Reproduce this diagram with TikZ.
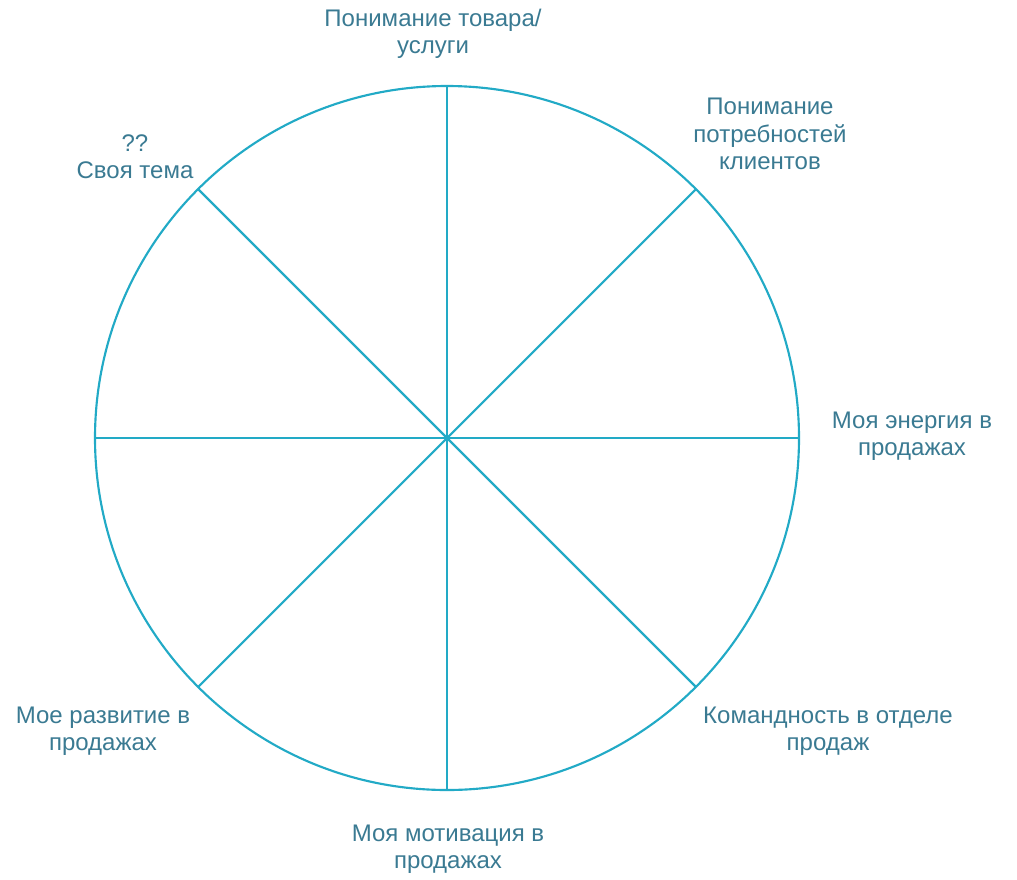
\documentclass[tikz,border=0pt]{standalone}
\usepackage{fontspec}
\setmainfont{Liberation Sans}
\usetikzlibrary{calc}
\definecolor{wheel}{RGB}{34,170,198}
\definecolor{lbl}{RGB}{58,122,146}
\begin{document}
\begin{tikzpicture}[x=0.75pt,y=-0.75pt,
  spoke/.style={draw=wheel,line width=1.6pt},
  lab/.style={text=lbl,align=center,font=\fontsize{18}{20.5}\selectfont,inner sep=0pt}]
\useasboundingbox (0,0) rectangle (1017,879);
\coordinate (c) at (447,438);
\draw[spoke] (c) circle[radius=352*0.75pt];
\foreach \a/\n in {0/e,45/ne,90/n,135/nw,180/w,225/sw,270/s,315/se}{
  \coordinate (\n) at ($(c)+(\a:352*0.75pt)$);
}
\draw[spoke] (e) -- (w);
\draw[spoke] (n) -- (s);
\draw[spoke] (ne) -- (sw);
\draw[spoke] (nw) -- (se);
\fill[wheel] (c) circle[radius=2.2pt];
\node[lab] (t1) at (433,34) {Понимание товара/\\услуги};
\node[lab] (t2) at (770,134) {Понимание\\потребностей\\клиентов};
\node[lab] (t3) at (135,157) {??\\Своя тема};
\node[lab] (t4) at (912,436) {Моя энергия в\\продажах};
\node[lab] (t5) at (103,731) {Мое развитие в\\продажах};
\node[lab] (t6) at (828,731) {Командность в отделе\\продаж};
\node[lab] (t7) at (448,849) {Моя мотивация в\\продажах};
\end{tikzpicture}
\end{document}
